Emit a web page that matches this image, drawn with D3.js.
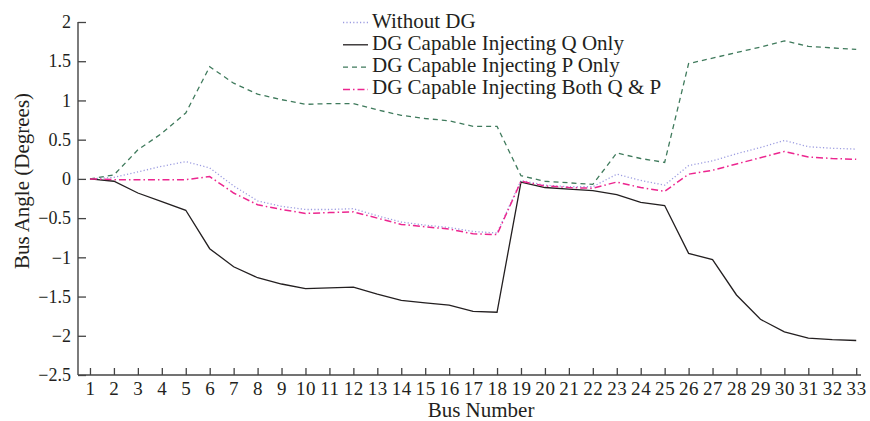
<!DOCTYPE html>
<html>
<head>
<meta charset="utf-8">
<script src="https://cdn.jsdelivr.net/npm/d3@7"></script>
<style>
  body { margin: 0; background: #fff; }
  text { font-family: "Liberation Serif", "DejaVu Serif", serif; fill: #231f20; }
</style>
</head>
<body>
<div id="chart"></div>
<script>
// chart data
var buses = d3.range(1, 34);
var withoutDG = [0, 0.02, 0.09, 0.16, 0.22, 0.14, -0.09, -0.28, -0.35, -0.39, -0.39, -0.38, -0.47,
    -0.55, -0.59, -0.62, -0.67, -0.69, -0.02, -0.08, -0.10, -0.10, 0.06, -0.02, -0.08,
    0.17, 0.23, 0.32, 0.40, 0.49, 0.41, 0.39, 0.38];
var qOnly = [0, -0.03, -0.18, -0.29, -0.40, -0.89, -1.12, -1.26, -1.34, -1.40, -1.39, -1.38, -1.47,
    -1.55, -1.58, -1.61, -1.69, -1.70, -0.04, -0.11, -0.13, -0.15, -0.20, -0.30, -0.34,
    -0.95, -1.03, -1.48, -1.79, -1.95, -2.03, -2.05, -2.06];
var pOnly = [0, 0.05, 0.37, 0.58, 0.84, 1.43, 1.22, 1.08, 1.01, 0.95, 0.96, 0.96, 0.88,
    0.81, 0.77, 0.74, 0.67, 0.67, 0.04, -0.03, -0.05, -0.07, 0.33, 0.26, 0.21,
    1.47, 1.54, 1.61, 1.68, 1.76, 1.69, 1.67, 1.65];
var bothQP = [0, -0.01, -0.01, -0.01, -0.01, 0.03, -0.18, -0.33, -0.39, -0.44, -0.43, -0.42, -0.50,
    -0.58, -0.61, -0.64, -0.70, -0.71, -0.03, -0.09, -0.11, -0.12, -0.04, -0.11, -0.16,
    0.06, 0.11, 0.19, 0.27, 0.35, 0.28, 0.26, 0.25];
var yTicks = [2, 1.5, 1, 0.5, 0, -0.5, -1, -1.5, -2, -2.5];

var series = [
    {name: "Without DG", values: withoutDG, color: "#9c9ce0", dash: "1.2,2.2", width: 1.3},
    {name: "DG Capable Injecting Q Only", values: qOnly, color: "#231f20", dash: null, width: 1.3},
    {name: "DG Capable Injecting P Only", values: pOnly, color: "#3f7a5c", dash: "5,4", width: 1.3},
    {name: "DG Capable Injecting Both Q & P", values: bothQP, color: "#ec268f", dash: "7,3,1.5,3", width: 1.5}
];

// dimensions
var W = 870, H = 421;
var svg = d3.select("#chart").append("svg")
    .attr("width", W)
    .attr("height", H);

var x = d3.scaleLinear().domain([0.5, 33.2]).range([78, 861]);
var y = d3.scaleLinear().domain([-2.5, 2]).range([375, 22]);

// Y axis (ticks pointing inward)
var yAxis = svg.append("g")
    .attr("transform", "translate(78,0)")
    .call(d3.axisRight(y).tickValues(yTicks).tickSize(8)
        .tickFormat(function (d) { return String(d).replace("-", "\u2212"); }));
yAxis.select(".domain").attr("stroke", "#444").attr("stroke-width", 1.4).attr("d", "M0,22V375");
yAxis.selectAll(".tick line").attr("stroke", "#444").attr("stroke-width", 1.3);
yAxis.selectAll(".tick text")
    .attr("x", -7)
    .attr("text-anchor", "end")
    .style("font-size", "18px")
    .style("font-family", "Liberation Serif, serif")
    .attr("fill", "#231f20");

// X axis (ticks pointing upward)
var xAxis = svg.append("g")
    .attr("transform", "translate(0,375)")
    .call(d3.axisTop(x).tickValues(buses).tickSize(7).tickFormat(d3.format("d")));
xAxis.select(".domain").attr("stroke", "#444").attr("stroke-width", 1.4).attr("d", "M78,0H861");
xAxis.selectAll(".tick line").attr("stroke", "#444").attr("stroke-width", 1.3);
xAxis.selectAll(".tick text")
    .attr("y", 20)
    .attr("dy", 0)
    .style("font-size", "19px")
    .style("letter-spacing", "0.6px")
    .style("font-family", "Liberation Serif, serif")
    .attr("fill", "#231f20");

// axis titles
svg.append("text")
    .attr("x", 481)
    .attr("y", 417)
    .attr("text-anchor", "middle")
    .style("font-size", "21px")
    .text("Bus Number");

svg.append("text")
    .attr("transform", "translate(29,181) rotate(-90)")
    .attr("text-anchor", "middle")
    .style("font-size", "21px")
    .text("Bus Angle (Degrees)");

// lines
var line = d3.line()
    .x(function (d, i) { return x(buses[i]); })
    .y(function (d) { return y(d); });

series.forEach(function (s) {
    svg.append("path")
        .datum(s.values)
        .attr("fill", "none")
        .attr("stroke", s.color)
        .attr("stroke-width", s.width)
        .attr("stroke-dasharray", s.dash)
        .attr("d", line);
});

// legend
var legend = svg.append("g").attr("transform", "translate(343,0)");
series.forEach(function (s, i) {
    var by = 27.5 + i * 22.3;
    legend.append("line")
        .attr("x1", 0).attr("x2", 25)
        .attr("y1", by - 5).attr("y2", by - 5)
        .attr("stroke", s.color)
        .attr("stroke-width", s.width)
        .attr("stroke-dasharray", s.dash);
    legend.append("text")
        .attr("x", 29)
        .attr("y", by)
        .style("font-size", "21px")
        .text(s.name);
});
</script>
</body>
</html>
